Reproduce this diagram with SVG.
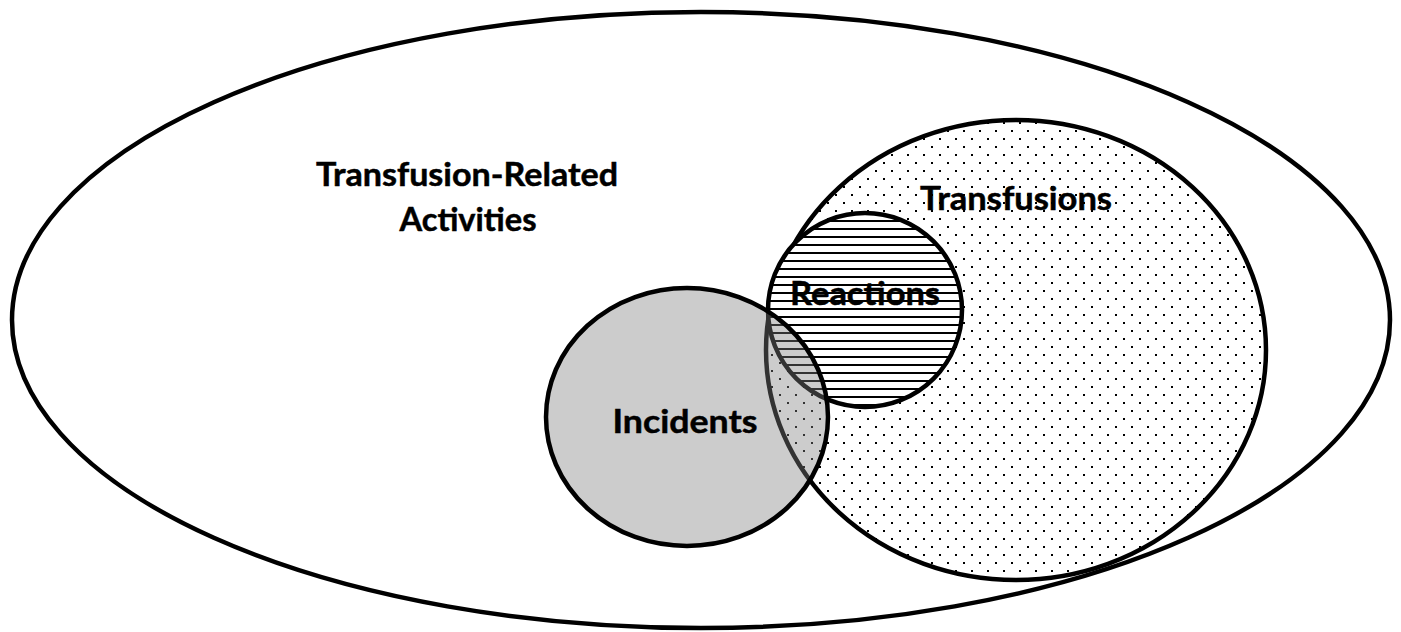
<svg xmlns="http://www.w3.org/2000/svg" width="1401" height="632" viewBox="0 0 1401 632">
<defs>
<pattern id="dots" x="0" y="0" width="16" height="16" patternUnits="userSpaceOnUse">
<rect width="16" height="16" fill="#ffffff"/>
<rect x="3" y="2" width="2" height="2" fill="#000"/>
<rect x="11" y="10" width="2" height="2" fill="#000"/>
</pattern>
<pattern id="hatch" x="0" y="0" width="8" height="8" patternUnits="userSpaceOnUse">
<rect width="8" height="8" fill="#ffffff"/>
<rect x="0" y="4" width="8" height="2" fill="#000"/>
</pattern>
<style>
.shape{stroke:#000;stroke-width:4.5}
.lbl{font-family:Lato,"Open Sans","Liberation Sans",sans-serif;font-weight:bold;font-size:33px;fill:#000;text-anchor:middle;stroke:#000;stroke-width:0.5}
</style>
</defs>
<rect width="1401" height="632" fill="#fff"/>
<g id="activities">
<ellipse class="shape" cx="701" cy="320" rx="689" ry="308" fill="#fff"/>
<text class="lbl" x="467" y="186" textLength="302" lengthAdjust="spacingAndGlyphs">Transfusion-Related</text>
<text class="lbl" x="468" y="231" textLength="137" lengthAdjust="spacingAndGlyphs">Activities</text>
</g>
<g id="transfusions">
<ellipse class="shape" cx="1016" cy="350" rx="250" ry="230" fill="url(#dots)"/>
<text class="lbl" x="1016" y="210" textLength="192" lengthAdjust="spacingAndGlyphs">Transfusions</text>
</g>
<g id="reactions">
<circle class="shape" cx="865" cy="310" r="97" fill="url(#hatch)"/>
<text class="lbl" x="865" y="305" textLength="150" lengthAdjust="spacingAndGlyphs">Reactions</text>
</g>
<g id="incidents">
<ellipse class="shape" cx="687" cy="417" rx="141" ry="129" fill="#808080" fill-opacity="0.4"/>
<text class="lbl" x="685" y="433" textLength="145" lengthAdjust="spacingAndGlyphs">Incidents</text>
</g>
<g id="connectors"/>
</svg>
